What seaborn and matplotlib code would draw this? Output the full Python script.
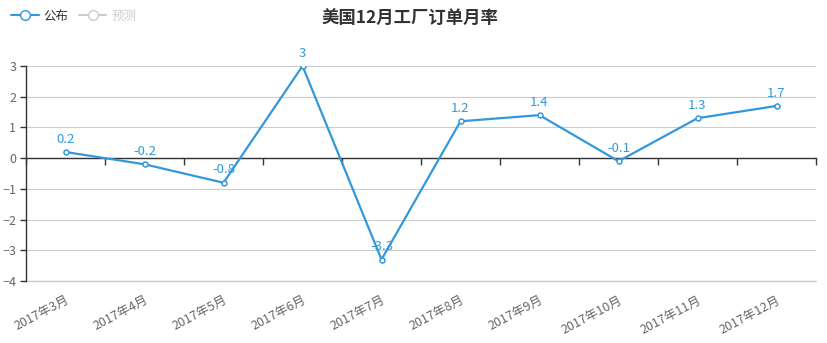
import matplotlib
matplotlib.use("Agg")
import matplotlib.pyplot as plt
from matplotlib.lines import Line2D
import seaborn as sns
import pandas as pd
import numpy as np

categories = ["2017年3月", "2017年4月", "2017年5月", "2017年6月", "2017年7月",
              "2017年8月", "2017年9月", "2017年10月", "2017年11月", "2017年12月"]
values = [0.2, -0.2, -0.8, 3, -3.3, 1.2, 1.4, -0.1, 1.3, 1.7]
yticks = [-4, -3, -2, -1, 0, 1, 2, 3]
title = "美国12月工厂订单月率"
legend_names = ["公布", "预测"]

sns.set_theme(style="white")
plt.rcParams['font.family'] = ['Noto Sans CJK SC', 'DejaVu Sans']

BLUE = "#3398DB"
df = pd.DataFrame({"pos": np.arange(len(categories)), "val": values})

fig = plt.figure(figsize=(8.28, 3.43), dpi=100)
ax = fig.add_axes([26/828, 1-281/343, (816-26)/828, (281-66)/343])

sns.lineplot(data=df, x="pos", y="val", ax=ax, color=BLUE, linewidth=1.6,
             marker="o", markersize=3.6, markerfacecolor="white",
             markeredgecolor=BLUE, markeredgewidth=1.1, zorder=3)

for x, v in zip(df["pos"], df["val"]):
    ax.annotate(f"{v:g}", (x, v), xytext=(0, 4.5), textcoords="offset points",
                ha="center", va="bottom", color=BLUE, fontsize=9.5)

ax.set_xlim(-0.5, len(categories) - 0.5)
ax.set_ylim(min(yticks), max(yticks))
ax.set_yticks(yticks)
ax.yaxis.grid(True, color="#cccccc", linewidth=0.8)
ax.axhline(min(yticks), color="#cccccc", linewidth=1.0, clip_on=False, zorder=0)
ax.set_axisbelow(True)
ax.tick_params(axis="y", which="both", left=True, length=4, width=1, color="#333333",
               labelcolor="#666666", labelsize=9, pad=3)
for s in ["top", "right"]:
    ax.spines[s].set_visible(False)
ax.spines["left"].set_color("#333333")
ax.spines["left"].set_linewidth(1)
ax.spines["bottom"].set_position(("data", 0))
ax.spines["bottom"].set_color("#333333")
ax.spines["bottom"].set_linewidth(1)
ax.set_xticks(np.arange(len(categories) + 1) - 0.5)
ax.tick_params(axis="x", bottom=True, length=5, width=1, color="#333333",
               labelbottom=False, direction="out")
ax.set_xlabel("")
ax.set_ylabel("")

sec = ax.secondary_xaxis(0.0)
sec.set_xticks(np.arange(len(categories)))
sec.set_xticklabels(categories, rotation=28, ha="right", rotation_mode="anchor",
                    color="#666666", fontsize=9)
sec.tick_params(axis="x", length=0, pad=9)
sec.spines["bottom"].set_visible(False)

fig.text(410/828, 1-19/343, title, ha="center", va="center", fontsize=12.5,
         fontweight="bold", color="#333333")

handles = [Line2D([], [], color=BLUE, marker="o", markersize=7, markerfacecolor="white",
                  markeredgecolor=BLUE, linewidth=1.5),
           Line2D([], [], color="#cccccc", marker="o", markersize=7, markerfacecolor="white",
                  markeredgecolor="#cccccc", linewidth=1.5)]
leg = fig.legend(handles, legend_names, loc="upper left", bbox_to_anchor=(0.0, 1.005),
                 ncol=2, frameon=False, fontsize=9, handlelength=2.2, handletextpad=0.4,
                 columnspacing=0.8)
leg.get_texts()[0].set_color("#333333")
leg.get_texts()[1].set_color("#cccccc")

fig.savefig("out.png", dpi=100)
